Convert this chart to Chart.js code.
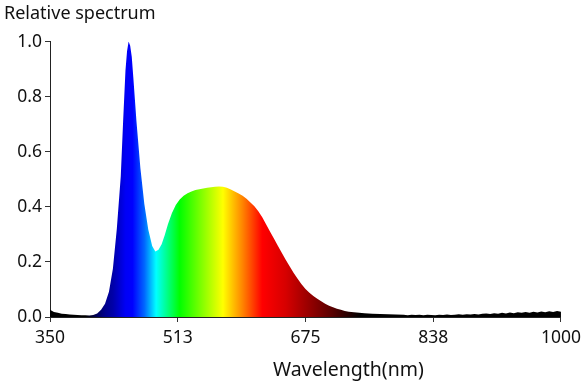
<!DOCTYPE html>
<html>
<head>
<meta charset="utf-8">
<script src="https://cdn.jsdelivr.net/npm/chart.js@4/dist/chart.umd.min.js"></script>
<style>
  html, body { margin: 0; padding: 0; background: #fff; }
  #wrap { width: 587px; height: 388px; }
</style>
</head>
<body>
<div id="wrap"><canvas id="spectrumChart" width="587" height="388"></canvas></div>
<script>
// wavelength (nm) and relative intensity
const wavelengths = [
  350, 355, 360, 365, 370, 375, 380, 385, 390, 395,
  400, 405, 410, 415, 420, 425, 430, 435, 440, 443,
  446, 448, 450, 452, 454, 456, 458, 460, 465, 470,
  475, 480, 484, 488, 492, 496, 500, 505, 510, 515,
  520, 525, 530, 535, 540, 545, 550, 555, 560, 565,
  570, 575, 580, 585, 590, 595, 600, 605, 610, 615,
  620, 625, 630, 635, 640, 645, 650, 655, 660, 665,
  670, 675, 680, 685, 690, 695, 700, 705, 710, 715,
  720, 725, 730, 740, 750, 760, 770, 780, 790, 800,
  805, 810, 815, 820, 825, 830, 835, 840, 845, 850,
  855, 860, 865, 870, 875, 880, 885, 890, 895, 900,
  905, 910, 915, 920, 925, 930, 935, 940, 945, 950,
  955, 960, 965, 970, 975, 980, 985, 990, 995, 1000
];
const intensity = [
  0.026, 0.018, 0.015, 0.012, 0.011, 0.009, 0.008, 0.007, 0.006, 0.006,
  0.005, 0.007, 0.013, 0.026, 0.048, 0.092, 0.175, 0.320, 0.510, 0.710,
  0.895, 0.965, 1.000, 0.985, 0.945, 0.870, 0.790, 0.710, 0.540, 0.410,
  0.318, 0.258, 0.238, 0.244, 0.264, 0.298, 0.337, 0.377, 0.407, 0.427,
  0.440, 0.449, 0.456, 0.461, 0.464, 0.467, 0.469, 0.471, 0.473, 0.474,
  0.473, 0.469, 0.463, 0.456, 0.448, 0.440, 0.429, 0.416, 0.402, 0.384,
  0.362, 0.336, 0.310, 0.284, 0.258, 0.232, 0.207, 0.183, 0.160, 0.139,
  0.119, 0.102, 0.088, 0.076, 0.066, 0.057, 0.048, 0.041, 0.035, 0.030,
  0.026, 0.022, 0.019, 0.016, 0.014, 0.012, 0.011, 0.010, 0.009, 0.008,
  0.006, 0.008, 0.007, 0.008, 0.006, 0.008, 0.007, 0.006, 0.008, 0.007,
  0.009, 0.007, 0.008, 0.010, 0.008, 0.010, 0.009, 0.011, 0.009, 0.012,
  0.013, 0.011, 0.014, 0.012, 0.015, 0.013, 0.016, 0.014, 0.017, 0.015,
  0.018, 0.015, 0.019, 0.016, 0.020, 0.017, 0.021, 0.018, 0.022, 0.019
];
const xTicks = [350, 512.5, 675, 837.5, 1000];
const yTicks = [0, 0.2, 0.4, 0.6, 0.8, 1.0];

// colour of the fill along the wavelength axis
const colourStops = [
  [395, '#000000'], [410, '#00005a'], [420, '#00008c'], [430, '#0000a8'],
  [446, '#0000f5'], [455, '#0000ff'], [470, '#0066ff'], [485, '#00ffff'],
  [515, '#00ff00'], [570, '#ffff00'], [595, '#ff8400'], [620, '#ff0000'],
  [650, '#d60000'], [680, '#960000'], [710, '#560000'], [745, '#000000']
];

const FONT = "'Noto Sans', sans-serif";

function spectrumFill(context) {
  const chart = context.chart;
  const area = chart.chartArea;
  if (!area) return '#000';
  const x = chart.scales.x;
  const g = chart.ctx.createLinearGradient(area.left, 0, area.right, 0);
  colourStops.forEach(([nm, c]) => {
    let pos = (x.getPixelForValue(nm) - area.left) / (area.right - area.left);
    g.addColorStop(Math.min(1, Math.max(0, pos)), c);
  });
  return g;
}

// x axis caption sits right of centre in the original
const xCaption = {
  id: 'xCaption',
  afterDraw(chart) {
    const ctx = chart.ctx;
    const area = chart.chartArea;
    ctx.save();
    ctx.font = '19.5px ' + FONT;
    ctx.fillStyle = '#111';
    ctx.textAlign = 'center';
    ctx.textBaseline = 'middle';
    ctx.fillText('Wavelength(nm)', area.left + (area.right - area.left) * 0.584, 370);
    ctx.restore();
  }
};

new Chart(document.getElementById('spectrumChart'), {
  type: 'line',
  data: {
    labels: wavelengths,
    datasets: [{
      label: 'Relative spectrum',
      data: wavelengths.map((w, i) => ({ x: w, y: intensity[i] })),
      fill: 'origin',
      backgroundColor: spectrumFill,
      borderWidth: 0,
      pointRadius: 0,
      tension: 0
    }]
  },
  plugins: [xCaption],
  options: {
    responsive: false,
    animation: false,
    layout: { padding: { left: 4, right: 26, top: 0, bottom: 0 } },
    plugins: {
      legend: { display: false },
      tooltip: { enabled: false },
      title: {
        display: true,
        text: 'Relative spectrum',
        align: 'start',
        color: '#111',
        font: { family: FONT, size: 18, weight: 'normal' },
        padding: { top: 3, bottom: 17 }
      }
    },
    scales: {
      x: {
        type: 'linear',
        min: 350,
        max: 1000,
        afterBuildTicks: s => { s.ticks = xTicks.map(v => ({ value: v })); },
        afterFit: s => { s.height = 71; },
        ticks: {
          color: '#111',
          font: { family: FONT, size: 17.5 },
          padding: 6,
          maxRotation: 0,
          callback: v => String(Math.round(v))
        },
        grid: { display: true, drawOnChartArea: false, drawTicks: true, tickLength: 5, tickColor: '#333' },
        border: { display: true, color: '#222', width: 1 }
      },
      y: {
        min: 0,
        max: 1,
        afterBuildTicks: s => { s.ticks = yTicks.map(v => ({ value: v })); },
        afterFit: s => { s.width = 46; },
        ticks: {
          color: '#111',
          font: { family: FONT, size: 17.5 },
          padding: 3,
          callback: v => v.toFixed(1)
        },
        grid: { display: true, drawOnChartArea: false, drawTicks: true, tickLength: 5, tickColor: '#333' },
        border: { display: true, color: '#222', width: 1 }
      }
    }
  }
});
</script>
</body>
</html>
